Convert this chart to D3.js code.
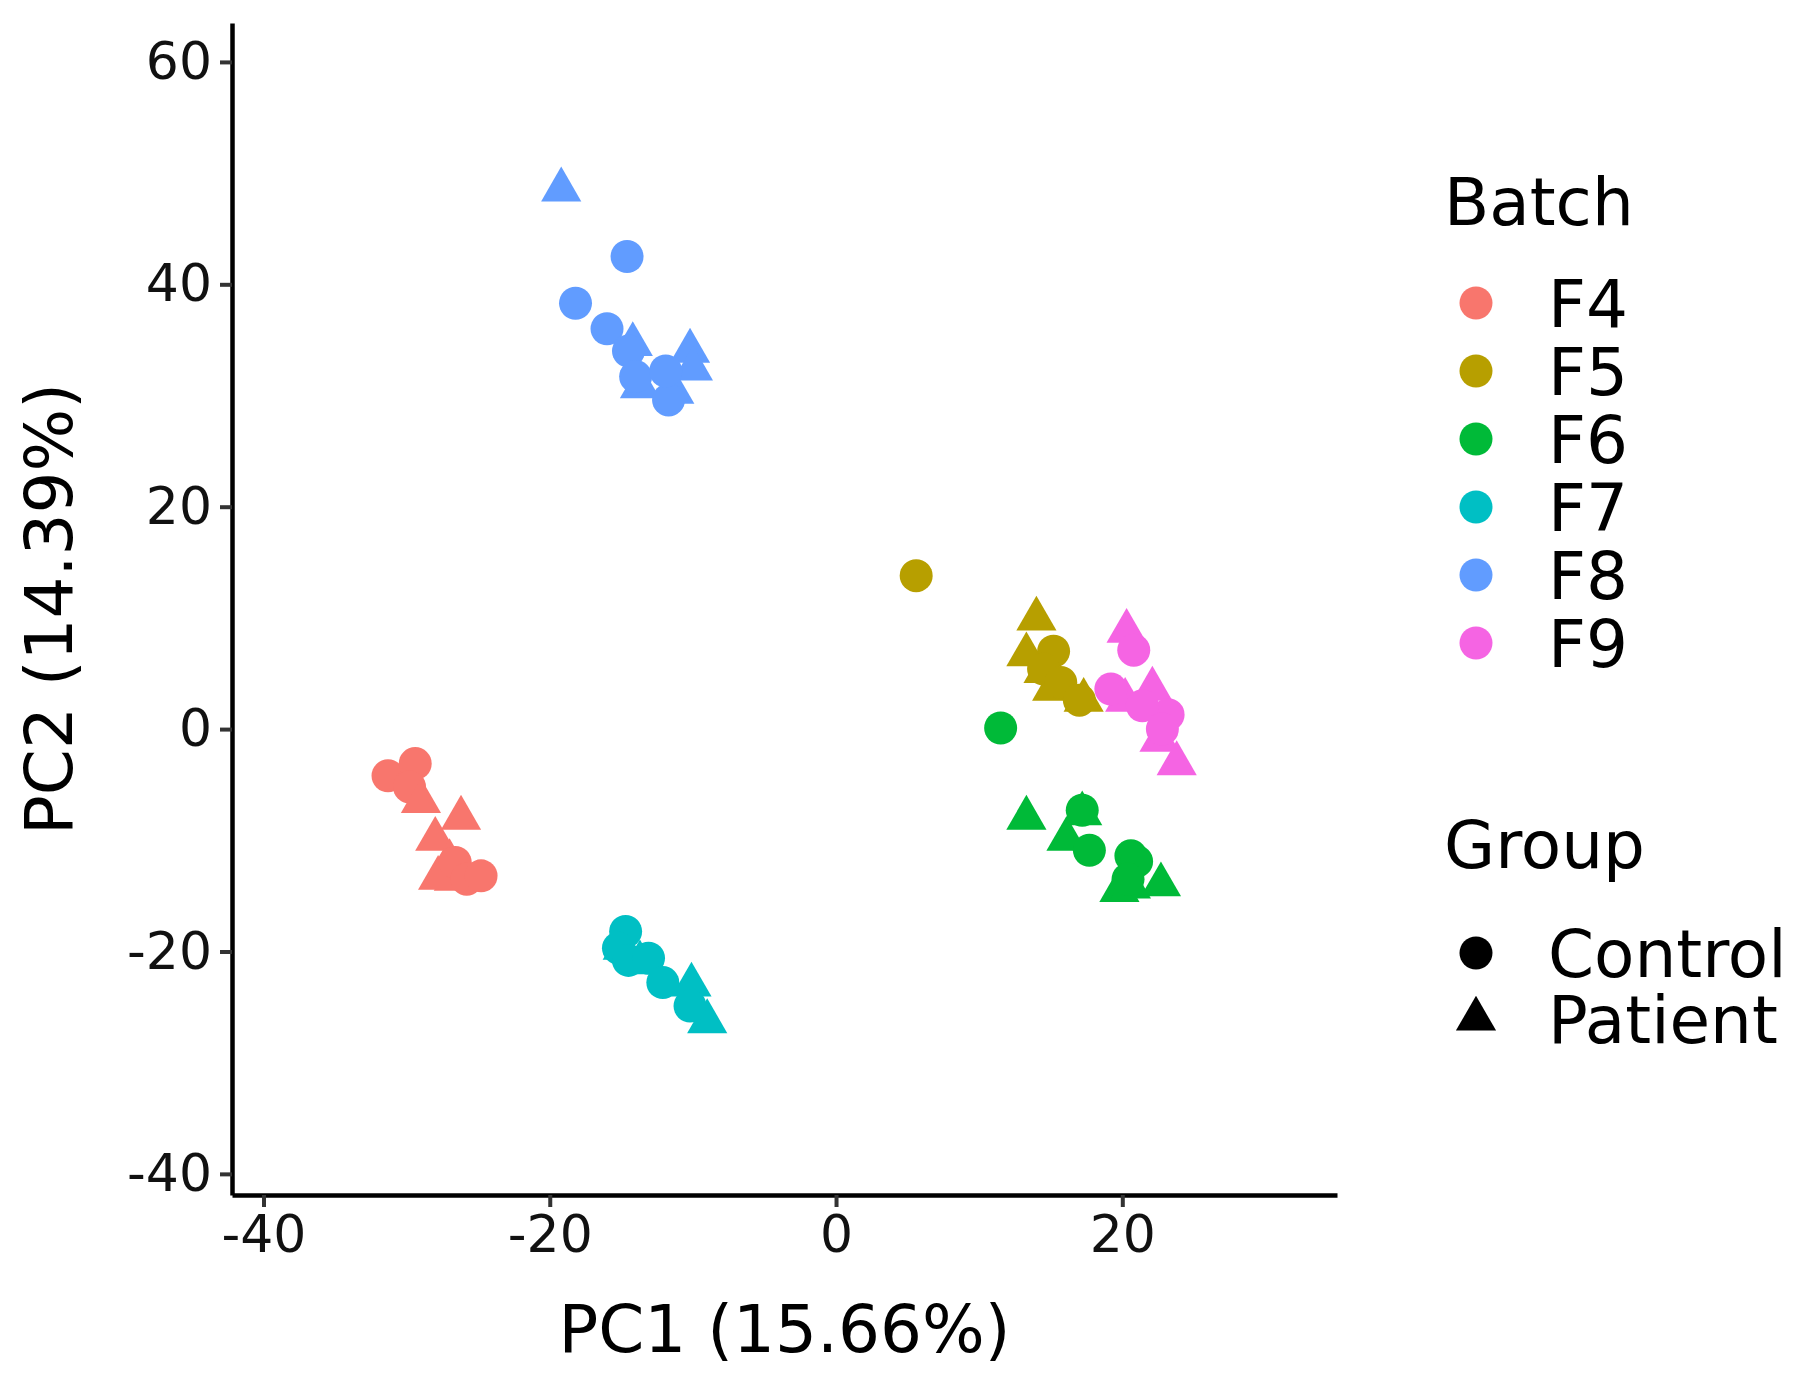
<!DOCTYPE html>
<html><head><meta charset="utf-8">
<script src="https://cdn.jsdelivr.net/npm/d3@7"></script>
<style>body{margin:0;background:#fff}text{font-family:"DejaVu Sans",sans-serif}</style>
</head><body><svg id="c" width="1811" height="1384"></svg>
<script>
const batches=["F4","F5","F6","F7","F8","F9"];
const colors=["#F8766D","#B79F00","#00BA38","#00BFC4","#619CFF","#F564E3"];
const groups=["Control","Patient"];
const xTicks=[-40,-20,0,20];
const yTicks=[-40,-20,0,20,40,60];
// [group, PC1, PC2]
const F4=[["C",-31.3,-4.2],["C",-29.4,-3.1],["C",-29.8,-5.2],["P",-29,-6.5],["P",-26.2,-8],["P",-28,-9.9],["P",-27,-11.9],["P",-26.7,-13.5],["P",-27.8,-13.4],["C",-26.6,-12],["C",-25.8,-13.5],["C",-24.8,-13.2]];
const F5=[["C",5.6,13.8],["P",14,9.9],["P",13.3,6.7],["P",14.5,5.2],["P",15.1,3.6],["P",17.3,2.6],["C",15.2,7],["C",14.5,5.4],["C",15.7,4.2],["C",17,2.6]];
const F6=[["C",11.5,0.1],["P",13.3,-8],["P",17.2,-7.6],["P",16.1,-9.9],["P",19.8,-14.5],["P",22.7,-14],["P",20.6,-14.2],["C",17.2,-7.3],["C",17.7,-10.9],["C",20.6,-11.4],["C",21,-11.9],["C",20.4,-13.5]];
const F7=[["P",-14.9,-19.7],["P",-13.7,-21],["P",-10.1,-23],["P",-9,-26.3],["C",-14.7,-18.2],["C",-15.2,-19.7],["C",-14.5,-20.8],["C",-13.1,-20.6],["C",-12.1,-22.8],["C",-10.2,-24.9]];
const F8=[["P",-19.2,48.5],["P",-14.2,34.6],["P",-10.2,34],["P",-10,32.4],["P",-13.7,30.8],["P",-11.3,30.3],["C",-14.6,42.5],["C",-18.2,38.3],["C",-16,36],["C",-14.5,34],["C",-14,31.7],["C",-11.7,29.6],["C",-11.9,32.2]];
const F9=[["P",20.3,8.8],["P",22.1,3.6],["P",20.2,2.6],["P",22.6,-1],["P",23.8,-3.1],["C",20.8,7.1],["C",19.2,3.6],["C",23.2,1.3],["C",21.4,2.1],["C",22.8,0]];
const series=[F4,F5,F6,F7,F8,F9];

const svg=d3.select("#c");
const L=232,R=1337,T=23,B=1195;
const x=d3.scaleLinear().domain([-42.2,35]).range([L,R]);
const y=d3.scaleLinear().domain([-41.9,63.5]).range([B,T]);
const tri=d3.symbol(d3.symbolTriangle,700);
const fmt=d=>String(d);

const g=svg.append("g");
series.forEach((s,i)=>{
  s.forEach(d=>{
    if(d[0]==="C") g.append("circle").attr("cx",x(d[1])).attr("cy",y(d[2])).attr("r",16.5).attr("fill",colors[i]);
    else g.append("path").attr("d",tri()).attr("transform",`translate(${x(d[1])},${y(d[2])})`).attr("fill",colors[i]);
  });
});

const ax=svg.append("g").attr("transform",`translate(0,${B})`).call(d3.axisBottom(x).tickValues(xTicks).tickFormat(fmt).tickSize(12).tickPadding(8).tickSizeOuter(0));
const ay=svg.append("g").attr("transform",`translate(${L},0)`).call(d3.axisLeft(y).tickValues(yTicks).tickFormat(fmt).tickSize(12).tickPadding(8).tickSizeOuter(0));
[ax,ay].forEach(a=>{a.select(".domain").attr("stroke","#000").attr("stroke-width",4.5);
  a.selectAll(".tick line").attr("stroke","#333").attr("stroke-width",4);
  a.selectAll(".tick text").attr("font-size",52).attr("fill","#111").style("font-family","DejaVu Sans");});
svg.append("text").attr("x",(L+R)/2).attr("y",1352).attr("text-anchor","middle").attr("font-size",66).text("PC1 (15.66%)");
svg.append("text").attr("transform",`translate(72,${(T+B)/2}) rotate(-90)`).attr("text-anchor","middle").attr("font-size",66).text("PC2 (14.39%)");

svg.append("text").attr("x",1444).attr("y",225).attr("font-size",66).text("Batch");
batches.forEach((b,i)=>{
  const yy=303+i*68;
  svg.append("circle").attr("cx",1476).attr("cy",yy).attr("r",16.5).attr("fill",colors[i]);
  svg.append("text").attr("x",1548).attr("y",yy+24).attr("font-size",66).text(b);
});
svg.append("text").attr("x",1444).attr("y",868).attr("font-size",66).text("Group");
groups.forEach((gname,i)=>{
  const yy=953+i*66;
  if(i===0) svg.append("circle").attr("cx",1476).attr("cy",yy).attr("r",16.5).attr("fill","#000");
  else svg.append("path").attr("d",tri()).attr("transform",`translate(1476,${yy})`).attr("fill","#000");
  svg.append("text").attr("x",1548).attr("y",yy+24).attr("font-size",66).text(gname);
});
</script></body></html>
